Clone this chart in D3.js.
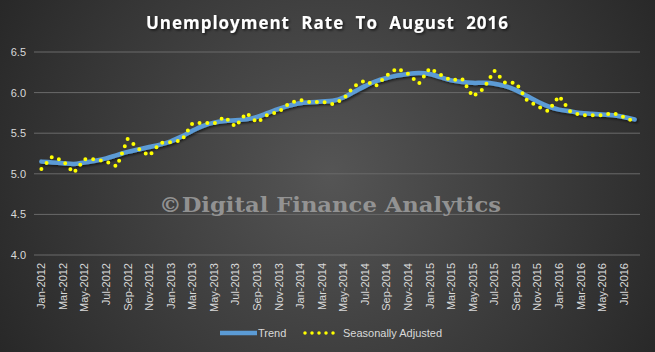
<!DOCTYPE html>
<html>
<head>
<meta charset="utf-8">
<script src="https://cdn.jsdelivr.net/npm/d3@7"></script>
<style>
  body { margin: 0; background: #2a2a2a; }
  svg { display: block; }
</style>
</head>
<body>
<svg id="chart"></svg>
<script>
// Months Jan-2012 .. Aug-2016
const months = ["Jan-2012","Feb-2012","Mar-2012","Apr-2012","May-2012","Jun-2012","Jul-2012","Aug-2012","Sep-2012","Oct-2012","Nov-2012","Dec-2012",
  "Jan-2013","Feb-2013","Mar-2013","Apr-2013","May-2013","Jun-2013","Jul-2013","Aug-2013","Sep-2013","Oct-2013","Nov-2013","Dec-2013",
  "Jan-2014","Feb-2014","Mar-2014","Apr-2014","May-2014","Jun-2014","Jul-2014","Aug-2014","Sep-2014","Oct-2014","Nov-2014","Dec-2014",
  "Jan-2015","Feb-2015","Mar-2015","Apr-2015","May-2015","Jun-2015","Jul-2015","Aug-2015","Sep-2015","Oct-2015","Nov-2015","Dec-2015",
  "Jan-2016","Feb-2016","Mar-2016","Apr-2016","May-2016","Jun-2016","Jul-2016","Aug-2016"];

const trend = [5.15,5.14,5.13,5.12,5.14,5.16,5.19,5.23,5.27,5.30,5.33,5.36,
  5.40,5.46,5.53,5.59,5.63,5.65,5.66,5.67,5.70,5.75,5.80,5.84,
  5.87,5.88,5.89,5.90,5.94,6.01,6.08,6.14,6.18,6.21,6.23,6.24,
  6.23,6.19,6.15,6.13,6.12,6.12,6.11,6.08,6.03,5.96,5.89,5.83,
  5.79,5.77,5.75,5.74,5.73,5.72,5.70,5.67];

const seasAdj = [5.06,5.21,5.16,5.01,5.18,5.18,5.15,5.09,5.43,5.31,5.22,5.38,
  5.39,5.41,5.62,5.63,5.62,5.70,5.58,5.75,5.63,5.73,5.76,5.87,
  5.91,5.88,5.89,5.86,5.92,6.08,6.15,6.08,6.21,6.30,6.23,6.11,
  6.30,6.22,6.15,6.17,5.95,6.05,6.27,6.12,6.12,5.91,5.83,5.77,
  5.96,5.77,5.72,5.72,5.72,5.75,5.70,5.64];

const yTicks = [4.0, 4.5, 5.0, 5.5, 6.0, 6.5];

const width = 655, height = 352;
const margin = { top: 52, right: 15, bottom: 97, left: 36 };
const innerW = width - margin.left - margin.right;
const innerH = height - margin.top - margin.bottom;

const svg = d3.select('#chart').attr('width', width).attr('height', height);

// background radial gradient
const defs = svg.append('defs');
const grad = defs.append('radialGradient').attr('id', 'bg')
  .attr('gradientUnits', 'userSpaceOnUse')
  .attr('cx', 330).attr('cy', 175).attr('r', 390);
grad.append('stop').attr('offset', '0%').attr('stop-color', '#555555');
grad.append('stop').attr('offset', '100%').attr('stop-color', '#262626');
svg.append('rect').attr('width', width).attr('height', height).attr('fill', 'url(#bg)');

const shadow = defs.append('filter').attr('id', 'shadow')
  .attr('x', '-5%').attr('y', '-20%').attr('width', '110%').attr('height', '140%');
shadow.append('feDropShadow').attr('dx', 1.5).attr('dy', 1.5).attr('stdDeviation', 1.2)
  .attr('flood-color', '#000').attr('flood-opacity', 0.6);

// title
svg.append('text')
  .attr('x', 327).attr('y', 29)
  .attr('text-anchor', 'middle')
  .attr('font-family', 'Open Sans, sans-serif')
  .attr('font-weight', 'bold')
  .attr('font-size', 17)
  .attr('fill', '#ffffff')
  .attr('filter', 'url(#shadow)')
  .attr('textLength', 362)
  .attr('lengthAdjust', 'spacing')
  .attr('word-spacing', 6)
  .text('Unemployment Rate To August 2016');

const chartArea = svg.append('g')
  .attr('transform', `translate(${margin.left},${margin.top})`);

const xScale = d3.scaleBand().domain(months).range([0, innerW]);
const yScale = d3.scaleLinear().domain([4.0, 6.5]).range([innerH, 0]);

// gridlines
chartArea.append('g')
  .selectAll('line')
  .data(yTicks)
  .join('line')
  .attr('x1', -2).attr('x2', innerW)
  .attr('y1', d => yScale(d)).attr('y2', d => yScale(d))
  .attr('stroke', '#6a6a6a')
  .attr('stroke-width', 1);

// y axis
const yAxisG = chartArea.append('g')
  .call(d3.axisLeft(yScale).tickValues(yTicks).tickFormat(d3.format('.1f')).tickSize(0).tickPadding(10));
yAxisG.select('.domain').remove();
yAxisG.selectAll('text')
  .attr('fill', '#d9d9d9')
  .attr('font-family', 'Liberation Sans, Arial, sans-serif')
  .attr('font-size', 11);

// x axis
const xAxisG = chartArea.append('g')
  .attr('transform', `translate(0,${innerH})`)
  .call(d3.axisBottom(xScale).tickValues(months.filter((d, i) => i % 2 === 0)).tickSize(0));
xAxisG.select('.domain').remove();
xAxisG.selectAll('text')
  .attr('fill', '#d9d9d9')
  .attr('font-family', 'Liberation Sans, Arial, sans-serif')
  .attr('font-size', 11)
  .attr('transform', 'rotate(-90)')
  .attr('text-anchor', 'end')
  .attr('x', -8)
  .attr('y', 0)
  .attr('dy', '0.35em');

// watermark
svg.append('text')
  .attr('x', 330).attr('y', 212)
  .attr('text-anchor', 'middle')
  .attr('font-family', 'DejaVu Serif, serif')
  .attr('font-weight', 'bold')
  .attr('font-size', 21)
  .attr('fill', '#a0a0a0')
  .attr('fill-opacity', 0.85)
  .attr('textLength', 342)
  .attr('lengthAdjust', 'spacingAndGlyphs')
  .text('\u00A9Digital Finance Analytics');

const xPos = (d, i) => xScale(months[i]) + xScale.bandwidth() / 2;

const trendLine = d3.line()
  .x(xPos)
  .y(d => yScale(d))
  .curve(d3.curveCatmullRom.alpha(0.5));

const saLine = d3.line()
  .x(xPos)
  .y(d => yScale(d))
  .curve(d3.curveLinear);

chartArea.append('path')
  .datum(trend)
  .attr('d', trendLine)
  .attr('fill', 'none')
  .attr('stroke', '#5b9bd5')
  .attr('stroke-width', 4.5)
  .attr('stroke-linecap', 'round')
  .attr('filter', 'url(#shadow)');

chartArea.append('path')
  .datum(seasAdj)
  .attr('d', saLine)
  .attr('fill', 'none')
  .attr('stroke', '#ffff00')
  .attr('stroke-width', 4)
  .attr('stroke-linecap', 'round')
  .attr('stroke-dasharray', '0 7.8');

// legend
const legend = svg.append('g').attr('transform', 'translate(0,333)');
legend.append('line')
  .attr('x1', 220).attr('x2', 257).attr('y1', 0).attr('y2', 0)
  .attr('stroke', '#5b9bd5').attr('stroke-width', 4.5);
legend.append('text')
  .attr('x', 258).attr('y', 0).attr('dy', '0.35em')
  .attr('fill', '#d9d9d9')
  .attr('font-family', 'Liberation Sans, Arial, sans-serif')
  .attr('font-size', 11)
  .text('Trend');
legend.append('line')
  .attr('x1', 305).attr('x2', 338).attr('y1', 0).attr('y2', 0)
  .attr('stroke', '#ffff00').attr('stroke-width', 3.5)
  .attr('stroke-linecap', 'round').attr('stroke-dasharray', '0 7');
legend.append('text')
  .attr('x', 343).attr('y', 0).attr('dy', '0.35em')
  .attr('fill', '#d9d9d9')
  .attr('font-family', 'Liberation Sans, Arial, sans-serif')
  .attr('font-size', 11)
  .text('Seasonally Adjusted');
</script>
</body>
</html>
